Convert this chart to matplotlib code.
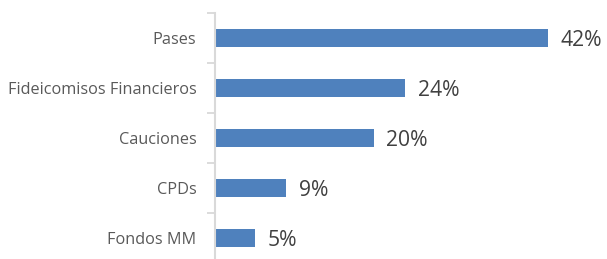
import matplotlib.pyplot as plt
import numpy as np

plt.rcParams['font.family'] = ['Open Sans', 'DejaVu Sans']

categorias = ['Pases', 'Fideicomisos Financieros', 'Cauciones', 'CPDs', 'Fondos MM']
porcentajes = [42, 24, 20, 9, 5]

fig = plt.figure(figsize=(6.07, 2.59), dpi=100)
ax = fig.add_axes([215 / 607, -4 / 259, 392 / 607, 250 / 259])

pos = np.arange(len(categorias))
ax.barh(pos, porcentajes, height=0.36, color='#4f81bd')

# etiquetas de valor
for y, v in zip(pos, porcentajes):
    ax.text(v + 1.6, y + 0.04, f'{v}%', va='center', ha='left', fontsize=15.2, color='#404040')

ax.set_xlim(0, 49.4)
ax.set_ylim(len(categorias) - 0.5, -0.5)
ax.set_yticks(pos)
ax.set_yticklabels(categorias, fontsize=11.7, color='#595959')
ax.tick_params(axis='y', which='major', length=0, pad=13.5)
ax.set_yticks(np.arange(-0.5, len(categorias), 1), minor=True)
ax.tick_params(axis='y', which='minor', length=6, width=1.3, color='#d9d9d9')
ax.set_xticks([])

for s in ['top', 'right', 'bottom']:
    ax.spines[s].set_visible(False)
ax.spines['left'].set_color('#d9d9d9')
ax.spines['left'].set_linewidth(1.5)

fig.savefig('out.png', dpi=100)
